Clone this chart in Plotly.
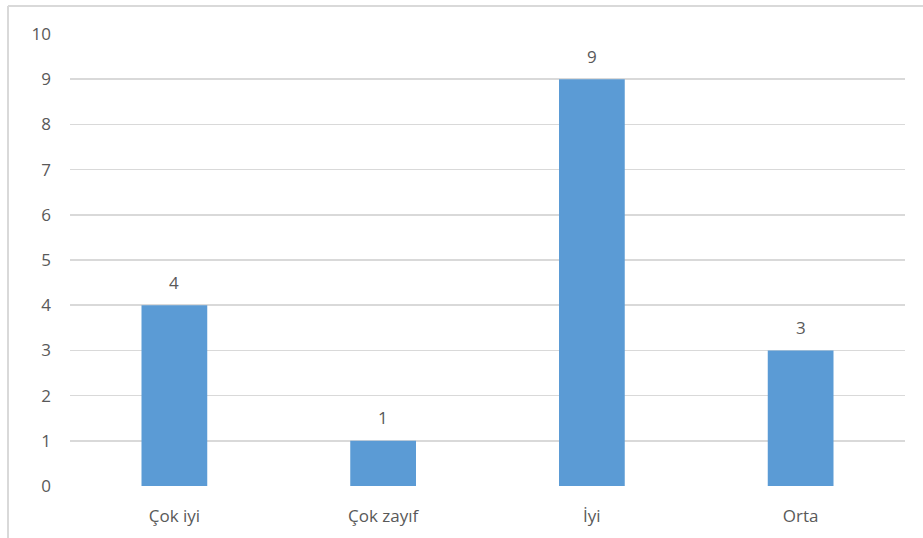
import plotly.graph_objects as go

categories = ["Çok iyi", "Çok zayıf", "İyi", "Orta"]
values = [4, 1, 9, 3]
y_ticks = list(range(0, 11))

TEXT = "#595959"
GRID = "#D9D9D9"
BAR = "#5B9BD5"
FONT = "Open Sans"
FS = 17

fig = go.Figure(go.Bar(
    x=categories, y=values, marker=dict(color=BAR, line=dict(width=0)),
    width=0.315, hoverinfo="skip",
))

for c, v in zip(categories, values):
    fig.add_annotation(x=c, y=v, text=str(v), showarrow=False, yanchor="middle",
                       yshift=23, font=dict(family=FONT, size=FS, color=TEXT))

L, R, T, B = 70, 18, 34, 52
W, H = 923, 538
pw, ph = W - L - R, H - T - B

def px_x(p):
    return (p - L) / pw

def px_y(p):
    return 1 - (p - T) / ph

fig.add_shape(type="line", xref="paper", yref="paper",
              x0=px_x(8), x1=px_x(940), y0=px_y(6), y1=px_y(6),
              line=dict(color=GRID, width=2))
fig.add_shape(type="line", xref="paper", yref="paper",
              x0=px_x(8), x1=px_x(8), y0=px_y(6), y1=px_y(560),
              line=dict(color=GRID, width=2))

fig.update_layout(
    width=W, height=H, margin=dict(l=L, r=R, t=T, b=B),
    paper_bgcolor="white", plot_bgcolor="white", showlegend=False,
    font=dict(family=FONT, size=FS, color=TEXT),
)
fig.update_xaxes(showgrid=False, showline=False, zeroline=False, ticks="",
                 ticklabelstandoff=18, tickfont=dict(size=FS, color=TEXT))
fig.update_yaxes(range=[0, 10], tickvals=y_ticks, showgrid=True, gridcolor=GRID,
                 gridwidth=1.5, zeroline=False, showline=False, ticks="",
                 ticklabelstandoff=18, tickfont=dict(size=FS, color=TEXT))

fig.write_html("out.html", config={"displayModeBar": False, "staticPlot": True},
               post_script="document.body.style.margin='0';document.body.style.overflow='hidden';")
